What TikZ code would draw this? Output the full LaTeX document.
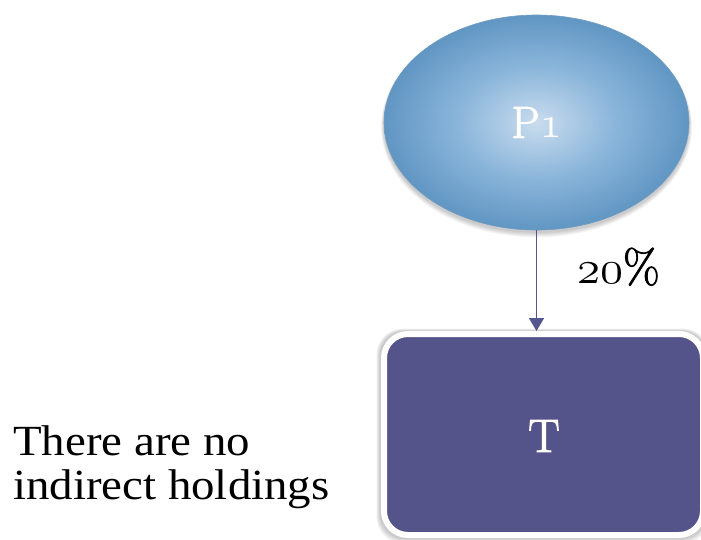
\RequirePackage{fix-cm}
\documentclass[tikz,border=0pt]{standalone}
\usepackage{fontspec}
\usetikzlibrary{arrows.meta,shapes.geometric}
\newfontfamily\notefont{Liberation Serif}[FakeStretch=1.09]
\newfontfamily\labelfont{Latin Modern Roman}[FakeBold=2]
% old-style figures from the Computer Modern math italic font
\newcommand\osfig[1]{{\usefont{OML}{cmm}{m}{it}#1}}

\definecolor{ownerblue}{HTML}{6196C3}
\definecolor{ownerlight}{HTML}{C9DCEE}
\definecolor{ownermid}{HTML}{8AB5DA}
\definecolor{ownerline}{HTML}{6F9DC5}
\definecolor{targetfill}{HTML}{55548A}
\definecolor{linkcol}{HTML}{55558F}

\pgfdeclareradialshading{ownershade}{\pgfpoint{0bp}{0bp}}{%
  color(0bp)=(ownerlight); color(13bp)=(ownermid);
  color(25bp)=(ownerblue); color(50bp)=(ownerblue)}

\tikzset{
  owner/.style={ellipse, minimum width=305pt, minimum height=215pt,
    shading=ownershade, draw=ownerline, line width=0.6pt,
    text=white, font=\labelfont\fontsize{45}{48}\selectfont, inner sep=0pt},
  target/.style={rectangle, rounded corners=24pt, minimum width=319pt,
    minimum height=201pt, fill=targetfill, draw=white, line width=6pt},
  tlabel/.style={text=white, font=\labelfont\fontsize{47}{50}\selectfont,
    anchor=base},
  link/.style={draw=linkcol, line width=1.6pt,
    -{Triangle[width=15pt,length=13pt]}},
  share/.style={font=\labelfont\fontsize{47}{50}\selectfont, text=black,
    inner sep=0pt},
  note/.style={font=\notefont\fontsize{43}{44}\selectfont, anchor=base west,
    inner sep=0pt, text=black}
}

\begin{document}
\begin{tikzpicture}[x=1pt,y=-1pt]
  \useasboundingbox[fill=white] (0,0) rectangle (701,539);

  % soft shadows under the two shapes
  \foreach \k in {1,...,6}{
    \fill[black, opacity=0.035]
      (536.5,124.5+0.4*\k) ellipse ({152.5+0.5*\k} and {107.5+0.5*\k});
    \fill[black, opacity=0.035, rounded corners=26pt]
      (380-0.6*\k,331-0.4*\k) rectangle (706+0.6*\k,538.5+0.8*\k);
  }

  \node[owner] (p1) at (536.5,122.5) {P\osfig{1}};
  \node[target] (t) at (543.5,434.5) {};
  \node[tlabel] (tl) at (544,452) {T};

  \draw[link] (p1.south) -- (p1.south |- t.north);

  \node[share, anchor=base west] (pct) at (577,283) {\osfig{20}\%};

  \node[note] (note1) at (13,455) {There are no};
  \node[note] (note2) at (13,499) {indirect holdings};
\end{tikzpicture}
\end{document}
